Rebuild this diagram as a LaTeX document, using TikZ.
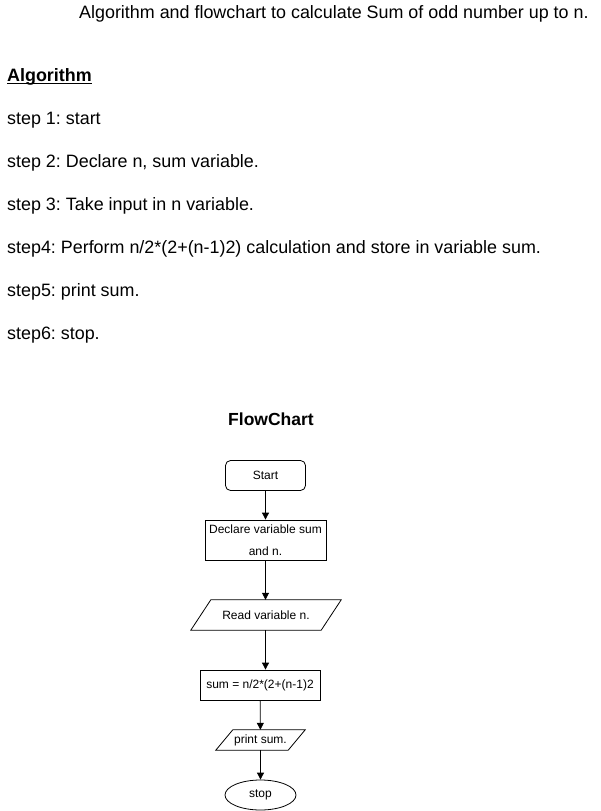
\documentclass[tikz,border=0pt]{standalone}
\usepackage{fontspec}
\setmainfont{Liberation Sans}
\usetikzlibrary{shapes.geometric,arrows.meta}
\frenchspacing
\begin{document}
\begin{tikzpicture}[x=1pt,y=-1pt,
  txt/.style={anchor=base west,inner sep=0pt,font=\fontsize{17.9}{20}\selectfont},
  fc/.style={draw,line width=0.8pt,font=\fontsize{12}{22}\selectfont,inner sep=0pt,align=center},
  plain/.style={inner sep=0pt,font=\fontsize{12}{22}\selectfont,align=center},
  arr/.style={line width=0.8pt,-{Stealth[length=7pt,width=7pt,inset=0pt]}}]
\useasboundingbox (0,0) rectangle (601,811);
\node[txt] (title) at (79,19) {Algorithm and flowchart to calculate Sum of odd number up to n.};
\node[txt,font=\fontsize{17.9}{20}\selectfont\bfseries] (alg) at (7,81) {Algorithm};
\draw[line width=1.3pt] ([yshift=-2.2pt]alg.base west) -- ([yshift=-2.2pt]alg.base east);
\node[txt] (s1) at (7,124) {step 1: start};
\node[txt] (s2) at (7,167) {step 2: Declare n, sum variable.};
\node[txt] (s3) at (7,210) {step 3: Take input in n variable.};
\node[txt] (s4) at (7,253) {step4: Perform n/2*(2+(n-1)2) calculation and store in variable sum.};
\node[txt] (s5) at (7,296) {step5: print sum.};
\node[txt] (s6) at (7,339) {step6: stop.};
\node[anchor=base,inner sep=0pt,font=\fontsize{17.5}{20}\selectfont\bfseries] (fct) at (271,425) {FlowChart};
\node[fc,rounded corners=5pt,minimum width=80pt,minimum height=30pt] (start) at (265.5,475.5) {Start};
\node[fc,minimum width=121pt,minimum height=40pt] (decl) at (265.5,540) {Declare variable sum\\and n.};
\node[plain,minimum width=130pt,minimum height=30pt] (read) at (266,615) {Read variable n.};
\draw[line width=0.8pt] ([xshift=10pt]read.north west) -- ([xshift=10pt]read.north east)
  -- ([xshift=-10pt]read.south east) -- ([xshift=-10pt]read.south west) -- cycle;
\node[fc,minimum width=120pt,minimum height=30pt] (sum) at (260,685) {sum = n/2*(2+(n-1)2};
\node[plain,minimum width=72pt,minimum height=20pt] (print) at (260.5,740) {print sum.};
\draw[line width=0.8pt] ([xshift=8.5pt]print.north west) -- ([xshift=8.5pt]print.north east)
  -- ([xshift=-8.5pt]print.south east) -- ([xshift=-8.5pt]print.south west) -- cycle;
\node[fc,ellipse,minimum width=71pt,minimum height=30pt] (stop) at (260.5,795) {stop};
\draw[arr] (start) -- (decl);
\draw[arr] (decl.south) -- (decl.south |- read.north);
\draw[arr] (read.south -| decl.south) -- (sum.north -| decl.south);
\draw[arr] (sum) -- (print);
\draw[arr] (print) -- (stop);
\end{tikzpicture}
\end{document}
